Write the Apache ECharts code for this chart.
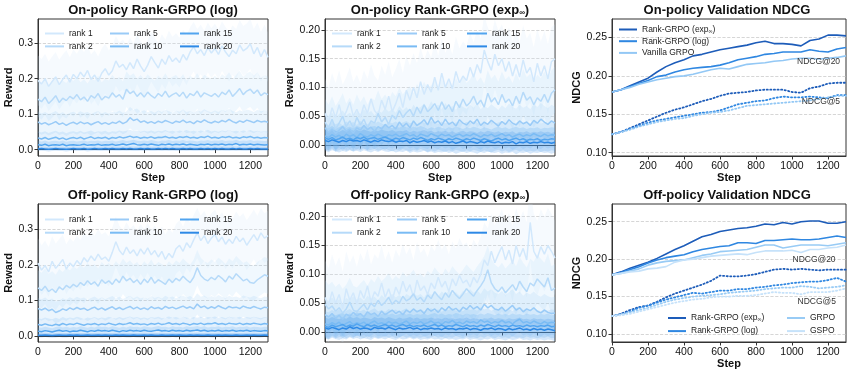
<!DOCTYPE html>
<html>
<head>
<meta charset="utf-8">
<script src="https://cdn.jsdelivr.net/npm/echarts@6/dist/echarts.min.js"></script>
<style>
  html, body { margin: 0; padding: 0; background: #fff; }
  #chart { width: 847px; height: 373px; }
</style>
</head>
<body>
<div id="chart"></div>
<script>
// steps for the reward curves
const steps = [0,20,40,60,80,100,120,140,160,180,200,220,240,260,280,300,320,340,360,380,400,420,440,460,480,500,520,540,560,580,600,620,640,660,680,700,720,740,760,780,800,820,840,860,880,900,920,940,960,980,1000,1020,1040,1060,1080,1100,1120,1140,1160,1180,1200,1220,1240,1260,1280,1300];
const rankNames = ['rank 1', 'rank 2', 'rank 5', 'rank 10', 'rank 15', 'rank 20'];

// On-policy Rank-GRPO (log)
const onLogR1 = [0.195,0.185,0.200,0.178,0.192,0.205,0.183,0.198,0.210,0.190, 0.212,0.200,0.218,0.205,0.223,0.198,0.210,0.192,0.215,0.228, 0.210,0.222,0.250,0.232,0.240,0.225,0.245,0.228,0.255,0.235, 0.220,0.238,0.262,0.245,0.230,0.255,0.240,0.265,0.248,0.258, 0.245,0.268,0.252,0.275,0.290,0.270,0.282,0.265,0.288,0.272, 0.285,0.268,0.292,0.275,0.262,0.280,0.270,0.295,0.278,0.285, 0.298,0.270,0.288,0.262,0.282,0.260];
const onLogR2 = [0.142,0.135,0.148,0.130,0.140,0.152,0.133,0.145,0.138,0.150, 0.143,0.155,0.140,0.148,0.136,0.152,0.145,0.158,0.140,0.150, 0.145,0.160,0.148,0.155,0.142,0.170,0.158,0.165,0.150,0.160, 0.148,0.162,0.152,0.145,0.158,0.150,0.165,0.148,0.155,0.160, 0.150,0.162,0.145,0.158,0.152,0.165,0.148,0.160,0.155,0.150, 0.158,0.148,0.162,0.155,0.168,0.150,0.160,0.172,0.155,0.165, 0.170,0.158,0.168,0.152,0.160,0.155];
const onLogR5 = [0.078,0.072,0.076,0.070,0.074,0.079,0.071,0.075,0.068,0.074, 0.077,0.072,0.078,0.073,0.076,0.070,0.075,0.079,0.072,0.076, 0.071,0.077,0.074,0.080,0.073,0.078,0.090,0.082,0.086,0.077, 0.081,0.075,0.079,0.074,0.080,0.076,0.082,0.078,0.074,0.080, 0.077,0.083,0.076,0.079,0.073,0.081,0.077,0.084,0.078,0.075, 0.080,0.076,0.082,0.078,0.085,0.079,0.075,0.081,0.077,0.083, 0.080,0.076,0.082,0.078,0.080,0.077];
const onLogR10 = [0.033,0.030,0.034,0.029,0.032,0.035,0.030,0.033,0.028,0.032, 0.034,0.031,0.035,0.030,0.033,0.036,0.031,0.034,0.032,0.035, 0.030,0.034,0.032,0.036,0.033,0.035,0.038,0.034,0.036,0.032, 0.035,0.033,0.036,0.032,0.035,0.034,0.037,0.033,0.035,0.032, 0.036,0.034,0.037,0.033,0.035,0.032,0.036,0.034,0.038,0.033, 0.035,0.032,0.036,0.034,0.037,0.033,0.035,0.032,0.036,0.034, 0.037,0.033,0.035,0.032,0.034,0.033];
const onLogR15 = [0.014,0.012,0.015,0.011,0.013,0.014,0.012,0.015,0.011,0.013, 0.014,0.012,0.013,0.015,0.012,0.014,0.013,0.015,0.012,0.014, 0.013,0.015,0.012,0.014,0.016,0.013,0.015,0.017,0.014,0.013, 0.015,0.013,0.016,0.014,0.012,0.015,0.014,0.016,0.013,0.015, 0.014,0.016,0.013,0.015,0.014,0.012,0.015,0.014,0.016,0.013, 0.015,0.014,0.016,0.013,0.015,0.014,0.017,0.013,0.015,0.014, 0.016,0.013,0.015,0.014,0.013,0.014];
const onLogR20 = [0.002,0.003,0.002,0.001,0.002,0.003,0.002,0.002,0.001,0.002, 0.003,0.002,0.002,0.003,0.001,0.002,0.003,0.002,0.002,0.003, 0.002,0.003,0.002,0.002,0.003,0.002,0.003,0.002,0.002,0.003, 0.002,0.003,0.002,0.002,0.003,0.002,0.003,0.002,0.003,0.002, 0.002,0.003,0.002,0.003,0.002,0.002,0.003,0.002,0.003,0.002, 0.003,0.002,0.003,0.002,0.002,0.003,0.002,0.003,0.002,0.002, 0.003,0.002,0.003,0.002,0.002,0.002];

// On-policy Rank-GRPO (exp∞)
const onExpR1 = [0.055,0.040,0.065,0.048,0.070,0.045,0.058,0.075,0.050,0.062, 0.048,0.070,0.055,0.080,0.060,0.052,0.078,0.062,0.085,0.058, 0.072,0.090,0.065,0.095,0.078,0.100,0.082,0.110,0.088,0.105, 0.092,0.118,0.095,0.125,0.100,0.115,0.098,0.128,0.108,0.120, 0.112,0.135,0.118,0.140,0.125,0.165,0.145,0.130,0.158,0.138, 0.150,0.128,0.145,0.120,0.140,0.118,0.148,0.125,0.135,0.110, 0.142,0.120,0.138,0.115,0.145,0.150];
const onExpR2 = [0.040,0.030,0.045,0.028,0.038,0.050,0.032,0.042,0.030,0.048, 0.035,0.045,0.030,0.042,0.038,0.055,0.040,0.048,0.036,0.052, 0.045,0.060,0.048,0.056,0.062,0.050,0.066,0.055,0.070,0.058, 0.064,0.072,0.060,0.075,0.062,0.070,0.058,0.076,0.065,0.080, 0.068,0.074,0.085,0.070,0.078,0.066,0.090,0.075,0.082,0.070, 0.088,0.074,0.080,0.068,0.085,0.072,0.092,0.078,0.084,0.070, 0.082,0.076,0.088,0.074,0.090,0.096];
const onExpR5 = [0.030,0.022,0.028,0.020,0.026,0.032,0.024,0.028,0.021,0.030, 0.026,0.034,0.027,0.031,0.024,0.032,0.028,0.036,0.030,0.034, 0.028,0.040,0.032,0.038,0.030,0.042,0.034,0.038,0.044,0.035, 0.048,0.038,0.042,0.034,0.045,0.036,0.040,0.033,0.044,0.038, 0.035,0.042,0.037,0.045,0.034,0.040,0.036,0.043,0.038,0.033, 0.041,0.036,0.044,0.038,0.035,0.042,0.037,0.040,0.034,0.043, 0.038,0.045,0.040,0.036,0.042,0.038];
const onExpR10 = [0.016,0.013,0.018,0.014,0.017,0.012,0.019,0.015,0.018,0.013, 0.020,0.016,0.014,0.018,0.015,0.019,0.016,0.013,0.018,0.016, 0.019,0.015,0.017,0.020,0.016,0.018,0.014,0.019,0.017,0.015, 0.020,0.017,0.015,0.019,0.016,0.018,0.014,0.017,0.019,0.015, 0.018,0.016,0.020,0.017,0.014,0.018,0.016,0.019,0.015,0.017, 0.020,0.016,0.018,0.014,0.017,0.019,0.015,0.018,0.016,0.020, 0.017,0.015,0.019,0.016,0.018,0.017];
const onExpR15 = [0.012,0.010,0.013,0.009,0.011,0.014,0.010,0.012,0.009,0.013, 0.011,0.014,0.010,0.012,0.013,0.010,0.012,0.014,0.011,0.009, 0.012,0.010,0.013,0.011,0.009,0.012,0.010,0.013,0.011,0.008, 0.011,0.009,0.012,0.010,0.008,0.011,0.009,0.012,0.010,0.008, 0.011,0.009,0.012,0.010,0.008,0.011,0.009,0.007,0.010,0.012, 0.009,0.011,0.008,0.010,0.012,0.009,0.011,0.008,0.010,0.009, 0.011,0.008,0.010,0.009,0.011,0.010];
const onExpR20 = [0.008,0.006,0.009,0.007,0.005,0.008,0.006,0.009,0.007,0.008, 0.006,0.009,0.007,0.005,0.008,0.006,0.009,0.007,0.006,0.008, 0.005,0.007,0.006,0.008,0.004,0.007,0.005,0.006,0.008,0.005, 0.007,0.004,0.006,0.005,0.007,0.004,0.006,0.003,0.005,0.007, 0.004,0.006,0.005,0.003,0.006,0.004,0.007,0.005,0.004,0.006, 0.003,0.005,0.004,0.006,0.002,0.005,0.004,0.006,0.003,0.005, 0.004,0.006,0.004,0.005,0.003,0.005];

// Off-policy Rank-GRPO (log)
const offLogR1 = [0.205,0.185,0.198,0.180,0.210,0.190,0.202,0.215,0.188,0.205, 0.195,0.212,0.200,0.220,0.208,0.225,0.212,0.230,0.215,0.222, 0.210,0.235,0.265,0.240,0.228,0.250,0.232,0.242,0.225,0.245, 0.230,0.248,0.228,0.240,0.222,0.238,0.215,0.232,0.220,0.245, 0.255,0.238,0.262,0.248,0.270,0.290,0.268,0.282,0.260,0.275, 0.285,0.265,0.278,0.258,0.272,0.260,0.280,0.265,0.275,0.255, 0.270,0.285,0.268,0.290,0.275,0.282];
const offLogR2 = [0.135,0.128,0.140,0.125,0.132,0.122,0.138,0.130,0.142,0.135, 0.145,0.138,0.150,0.142,0.155,0.145,0.152,0.140,0.158,0.148, 0.155,0.145,0.160,0.150,0.168,0.155,0.162,0.150,0.158,0.145, 0.160,0.150,0.165,0.148,0.158,0.152,0.145,0.160,0.150,0.162, 0.155,0.168,0.158,0.150,0.165,0.192,0.170,0.160,0.155,0.165, 0.158,0.170,0.162,0.152,0.168,0.160,0.175,0.165,0.155,0.160, 0.150,0.148,0.158,0.165,0.172,0.168];
const offLogR5 = [0.077,0.073,0.078,0.071,0.075,0.066,0.070,0.076,0.072,0.079, 0.074,0.080,0.075,0.078,0.072,0.077,0.081,0.074,0.079,0.073, 0.078,0.082,0.075,0.080,0.074,0.079,0.083,0.076,0.081,0.075, 0.079,0.074,0.082,0.077,0.080,0.075,0.083,0.078,0.081,0.076, 0.080,0.084,0.078,0.082,0.076,0.090,0.080,0.084,0.077,0.082, 0.078,0.085,0.080,0.076,0.083,0.079,0.081,0.077,0.084,0.080, 0.078,0.083,0.079,0.076,0.081,0.079];
const offLogR10 = [0.032,0.030,0.034,0.031,0.029,0.033,0.030,0.035,0.031,0.034, 0.032,0.036,0.033,0.030,0.034,0.032,0.035,0.031,0.034,0.032, 0.036,0.033,0.031,0.035,0.032,0.034,0.037,0.033,0.035,0.032, 0.034,0.031,0.035,0.033,0.036,0.032,0.034,0.037,0.033,0.035, 0.032,0.036,0.034,0.031,0.035,0.033,0.036,0.032,0.035,0.034, 0.037,0.033,0.035,0.032,0.036,0.034,0.033,0.036,0.032,0.035, 0.033,0.036,0.034,0.032,0.035,0.033];
const offLogR15 = [0.013,0.012,0.015,0.013,0.011,0.014,0.016,0.013,0.015,0.012, 0.014,0.013,0.016,0.014,0.012,0.015,0.013,0.016,0.014,0.015, 0.013,0.016,0.014,0.012,0.015,0.013,0.016,0.014,0.015,0.013, 0.016,0.014,0.013,0.015,0.017,0.014,0.015,0.013,0.016,0.014, 0.015,0.013,0.016,0.014,0.015,0.017,0.014,0.016,0.013,0.015, 0.014,0.016,0.013,0.015,0.014,0.016,0.013,0.015,0.014,0.016, 0.013,0.015,0.014,0.013,0.015,0.014];
const offLogR20 = [0.002,0.002,0.003,0.002,0.001,0.002,0.003,0.002,0.002,0.003, 0.002,0.003,0.002,0.002,0.003,0.002,0.002,0.003,0.002,0.003, 0.002,0.002,0.003,0.002,0.003,0.002,0.002,0.003,0.002,0.002, 0.003,0.002,0.003,0.002,0.002,0.003,0.002,0.002,0.003,0.002, 0.003,0.002,0.002,0.003,0.002,0.003,0.002,0.002,0.003,0.002, 0.002,0.003,0.002,0.003,0.002,0.002,0.003,0.002,0.002,0.003, 0.002,0.003,0.002,0.002,0.003,0.002];

// Off-policy Rank-GRPO (exp∞)
const offExpR1 = [0.060,0.045,0.070,0.050,0.065,0.040,0.075,0.055,0.068,0.048, 0.072,0.058,0.080,0.052,0.070,0.062,0.085,0.060,0.075,0.055, 0.078,0.065,0.088,0.070,0.082,0.060,0.090,0.072,0.080,0.065, 0.085,0.075,0.095,0.078,0.088,0.070,0.092,0.080,0.098,0.085, 0.090,0.078,0.095,0.085,0.100,0.125,0.115,0.140,0.120,0.135, 0.148,0.125,0.142,0.118,0.150,0.130,0.145,0.125,0.190,0.140, 0.128,0.148,0.135,0.150,0.140,0.128];
const offExpR2 = [0.048,0.040,0.045,0.036,0.042,0.033,0.040,0.052,0.038,0.035, 0.042,0.048,0.038,0.050,0.044,0.055,0.046,0.052,0.060,0.048, 0.055,0.050,0.062,0.054,0.058,0.066,0.055,0.060,0.052,0.064, 0.058,0.070,0.062,0.056,0.068,0.060,0.072,0.064,0.058,0.066, 0.075,0.068,0.062,0.072,0.080,0.090,0.108,0.085,0.075,0.070, 0.078,0.068,0.075,0.082,0.072,0.088,0.078,0.070,0.085,0.080, 0.092,0.085,0.078,0.094,0.072,0.076];
const offExpR5 = [0.030,0.026,0.032,0.024,0.029,0.022,0.031,0.027,0.034,0.028, 0.032,0.026,0.035,0.030,0.033,0.027,0.036,0.030,0.034,0.038, 0.032,0.036,0.030,0.038,0.034,0.040,0.035,0.038,0.032,0.041, 0.036,0.040,0.034,0.042,0.037,0.044,0.038,0.041,0.035,0.043, 0.039,0.046,0.040,0.044,0.038,0.048,0.042,0.046,0.040,0.038, 0.043,0.036,0.041,0.046,0.038,0.042,0.035,0.040,0.037,0.042, 0.036,0.033,0.038,0.034,0.032,0.033];
const offExpR10 = [0.014,0.012,0.016,0.013,0.017,0.011,0.015,0.018,0.013,0.016, 0.014,0.017,0.012,0.016,0.019,0.014,0.016,0.013,0.018,0.015, 0.017,0.013,0.016,0.019,0.014,0.017,0.015,0.018,0.014,0.016, 0.019,0.015,0.017,0.013,0.018,0.016,0.020,0.015,0.017,0.014, 0.019,0.016,0.018,0.015,0.021,0.017,0.019,0.015,0.018,0.016, 0.020,0.016,0.018,0.014,0.019,0.022,0.016,0.018,0.015,0.019, 0.016,0.014,0.018,0.015,0.017,0.016];
const offExpR15 = [0.010,0.008,0.012,0.009,0.011,0.013,0.009,0.012,0.010,0.014, 0.011,0.009,0.013,0.010,0.012,0.009,0.011,0.013,0.010,0.012, 0.009,0.011,0.013,0.010,0.012,0.009,0.011,0.010,0.012,0.009, 0.011,0.013,0.010,0.012,0.009,0.011,0.010,0.013,0.011,0.009, 0.012,0.010,0.011,0.009,0.012,0.010,0.013,0.011,0.009,0.012, 0.010,0.011,0.009,0.012,0.010,0.011,0.009,0.012,0.010,0.011, 0.009,0.011,0.010,0.012,0.009,0.010];
const offExpR20 = [0.007,0.005,0.008,0.006,0.004,0.007,0.005,0.009,0.006,0.008, 0.005,0.007,0.006,0.004,0.008,0.006,0.007,0.005,0.008,0.006, 0.004,0.007,0.005,0.006,0.008,0.005,0.007,0.004,0.006,0.005, 0.007,0.005,0.006,0.004,0.007,0.005,0.006,0.004,0.006,0.005, 0.007,0.004,0.006,0.005,0.003,0.006,0.005,0.007,0.004,0.006, 0.005,0.003,0.006,0.004,0.005,0.007,0.004,0.005,0.003,0.006, 0.004,0.005,0.003,0.005,0.004,0.002];

// std band half-widths per rank
const onLogSpread = [0.07, 0.05, 0.03, 0.018, 0.011, 0.006];
const onExpSpread = [0.06, 0.04, 0.028, 0.022, 0.02, 0.018];
const offLogSpread = [0.07, 0.05, 0.03, 0.018, 0.011, 0.006];
const offExpSpread = [0.065, 0.042, 0.028, 0.022, 0.02, 0.018];

// validation NDCG, every 50 steps
const ndcgSteps = [0,50,100,150,200,250,300,350,400,450,500,550,600,650,700,750,800,850,900,950,1000,1050,1100,1150,1200,1250,1300];
const onExp20 = [0.179,0.182,0.187,0.192,0.197,0.205,0.212,0.217,0.221,0.226,0.228,0.231,0.234,0.236,0.238,0.240,0.243,0.245,0.242,0.242,0.241,0.239,0.246,0.248,0.253,0.253,0.252];
const onLog20 = [0.179,0.182,0.186,0.190,0.194,0.199,0.201,0.205,0.208,0.210,0.211,0.212,0.214,0.217,0.221,0.223,0.225,0.228,0.229,0.231,0.231,0.231,0.234,0.232,0.231,0.235,0.237];
const onVanilla20 = [0.179,0.182,0.185,0.189,0.192,0.195,0.197,0.199,0.200,0.202,0.205,0.208,0.210,0.209,0.212,0.215,0.216,0.217,0.219,0.220,0.222,0.223,0.223,0.222,0.223,0.224,0.226];
const onExp5 = [0.124,0.127,0.132,0.137,0.142,0.147,0.152,0.156,0.159,0.163,0.167,0.170,0.174,0.177,0.178,0.179,0.181,0.182,0.182,0.182,0.179,0.178,0.184,0.186,0.190,0.191,0.191];
const onLog5 = [0.124,0.127,0.131,0.135,0.139,0.142,0.144,0.146,0.148,0.150,0.152,0.153,0.155,0.159,0.163,0.165,0.167,0.168,0.171,0.173,0.172,0.172,0.173,0.172,0.171,0.175,0.175];
const onVanilla5 = [0.124,0.127,0.130,0.134,0.137,0.140,0.142,0.144,0.145,0.148,0.150,0.152,0.153,0.155,0.158,0.161,0.162,0.163,0.164,0.165,0.166,0.167,0.168,0.170,0.172,0.174,0.174];
const offExp20 = [0.179,0.183,0.188,0.192,0.196,0.201,0.207,0.213,0.218,0.224,0.230,0.233,0.237,0.239,0.241,0.242,0.244,0.247,0.246,0.249,0.247,0.250,0.251,0.251,0.248,0.248,0.250];
const offLog20 = [0.179,0.182,0.186,0.190,0.195,0.199,0.202,0.204,0.206,0.210,0.213,0.215,0.217,0.218,0.222,0.222,0.221,0.225,0.225,0.226,0.227,0.226,0.226,0.227,0.229,0.231,0.229];
const offGrpo20 = [0.179,0.181,0.184,0.187,0.192,0.195,0.197,0.198,0.199,0.202,0.205,0.207,0.210,0.211,0.212,0.213,0.216,0.219,0.219,0.215,0.217,0.219,0.219,0.219,0.218,0.220,0.222];
const offGspo20 = [0.179,0.181,0.183,0.184,0.187,0.188,0.190,0.196,0.199,0.200,0.202,0.204,0.205,0.206,0.207,0.206,0.209,0.211,0.211,0.211,0.212,0.209,0.213,0.213,0.215,0.216,0.219];
const offExp5 = [0.124,0.127,0.132,0.136,0.138,0.143,0.149,0.154,0.158,0.162,0.166,0.171,0.178,0.177,0.177,0.178,0.180,0.183,0.186,0.187,0.186,0.187,0.186,0.185,0.186,0.186,0.186];
const offLog5 = [0.124,0.126,0.130,0.135,0.138,0.142,0.146,0.149,0.152,0.155,0.154,0.156,0.158,0.158,0.160,0.160,0.162,0.163,0.165,0.166,0.168,0.169,0.170,0.170,0.172,0.175,0.170];
const offGrpo5 = [0.124,0.126,0.129,0.132,0.135,0.139,0.143,0.146,0.148,0.150,0.151,0.152,0.153,0.155,0.156,0.157,0.158,0.160,0.161,0.162,0.162,0.164,0.163,0.161,0.162,0.163,0.165];
const offGspo5 = [0.124,0.125,0.127,0.130,0.133,0.136,0.139,0.142,0.144,0.146,0.147,0.149,0.150,0.150,0.151,0.151,0.152,0.154,0.156,0.155,0.155,0.153,0.156,0.156,0.156,0.158,0.161];

// tick labels
const stepTicks = [0, 200, 400, 600, 800, 1000, 1200];
const logRewardTicks = [0, 0.1, 0.2, 0.3];
const expRewardTicks = [0, 0.05, 0.1, 0.15, 0.2];
const ndcgTicks = [0.1, 0.15, 0.2, 0.25];

const FONT = 'Liberation Sans, Arial, Helvetica, sans-serif';
const rankColors = ['#d2e8fc', '#b6daf9', '#9acbf7', '#79bbf4', '#51a4ef', '#2d89e6'];
const cExp = '#1d5cb9', cLog = '#2f87e1', cVan = '#93c8f5', cGrpo = '#98cbf5', cGspo = '#c6e2fa';

const boxes = [
  { left: 38, top: 19, width: 230, height: 137 },
  { left: 325, top: 19, width: 230, height: 137 },
  { left: 612, top: 19, width: 234, height: 137 },
  { left: 38, top: 204, width: 230, height: 138 },
  { left: 325, top: 204, width: 230, height: 138 },
  { left: 612, top: 204, width: 234, height: 138 }
];
const yCfg = [
  { min: -0.018, max: 0.368, step: 0.1, dig: 1, ticks: logRewardTicks, name: 'Reward', gap: 21.5 },
  { min: -0.019, max: 0.219, step: 0.05, dig: 2, ticks: expRewardTicks, name: 'Reward', gap: 28.5 },
  { min: 0.0957, max: 0.274, step: 0.05, dig: 2, ticks: ndcgTicks, name: 'NDCG', gap: 28.5 },
  { min: -0.017, max: 0.371, step: 0.1, dig: 1, ticks: logRewardTicks, name: 'Reward', gap: 21.5 },
  { min: -0.0174, max: 0.222, step: 0.05, dig: 2, ticks: expRewardTicks, name: 'Reward', gap: 28.5 },
  { min: 0.0893, max: 0.2737, step: 0.05, dig: 2, ticks: ndcgTicks, name: 'NDCG', gap: 28.5 }
];
const showStep = [true, true, true, false, false, true];

const grids = [], xAxes = [], yAxes = [], series = [];
const axisLine = { show: true, lineStyle: { color: '#333', width: 1 } };
const axisTickStyle = { color: '#333', width: 1 };

boxes.forEach((b, i) => {
  grids.push(Object.assign({ show: true, borderColor: '#333', borderWidth: 1, backgroundColor: 'transparent', containLabel: false, outerBoundsMode: 'none' }, b));
  xAxes.push({
    type: 'value', gridIndex: i, min: 0, max: 1300, minInterval: 200, maxInterval: 200,
    name: showStep[i] ? 'Step' : '', nameLocation: 'middle', nameGap: 15,
    nameTextStyle: { fontFamily: FONT, fontWeight: 'bold', fontSize: 11, color: '#111' },
    axisLine: axisLine,
    axisTick: { show: true, length: 3.5, lineStyle: axisTickStyle, customValues: stepTicks },
    axisLabel: { fontFamily: FONT, fontSize: 10.5, color: '#111', margin: 5, customValues: stepTicks, formatter: v => String(v) },
    splitLine: { show: false }
  });
  const c = yCfg[i];
  yAxes.push({
    type: 'value', gridIndex: i, min: c.min, max: c.max, minInterval: c.step, maxInterval: c.step,
    name: c.name, nameLocation: 'middle', nameGap: c.gap,
    nameTextStyle: { fontFamily: FONT, fontWeight: 'bold', fontSize: 11, color: '#111' },
    axisLine: axisLine,
    axisTick: { show: true, length: 3.5, lineStyle: axisTickStyle, customValues: c.ticks },
    axisLabel: { fontFamily: FONT, fontSize: 10.5, color: '#111', margin: 5, customValues: c.ticks, formatter: v => v.toFixed(c.dig) },
    splitLine: { show: true, lineStyle: { type: 'dashed', color: '#cccccc', width: 0.8 } }
  });
});

// reward panels: std band (custom polygon) + mean line per rank
const rewardPanels = [
  { idx: 0, lines: [onLogR1, onLogR2, onLogR5, onLogR10, onLogR15, onLogR20], spread: onLogSpread },
  { idx: 1, lines: [onExpR1, onExpR2, onExpR5, onExpR10, onExpR15, onExpR20], spread: onExpSpread },
  { idx: 3, lines: [offLogR1, offLogR2, offLogR5, offLogR10, offLogR15, offLogR20], spread: offLogSpread },
  { idx: 4, lines: [offExpR1, offExpR2, offExpR5, offExpR10, offExpR15, offExpR20], spread: offExpSpread }
];
rewardPanels.forEach(p => {
  p.lines.forEach((vals, r) => {
    const sp = p.spread[r];
    const bandData = vals.map((v, k) => [steps[k], v - sp, v + sp]);
    series.push({
      type: 'custom', xAxisIndex: p.idx, yAxisIndex: p.idx, silent: true, clip: true, z: 1,
      data: bandData, encode: { x: 0, y: [1, 2] },
      renderItem: (params, api) => {
        if (params.dataIndex !== 0) return;
        const upper = bandData.map(d => api.coord([d[0], d[2]]));
        const lower = bandData.map(d => api.coord([d[0], d[1]])).reverse();
        return { type: 'polygon', shape: { points: upper.concat(lower) },
          style: { fill: rankColors[r], opacity: 0.2 } };
      }
    });
  });
  p.lines.forEach((vals, r) => {
    series.push({
      name: rankNames[r], type: 'line', xAxisIndex: p.idx, yAxisIndex: p.idx,
      data: vals.map((v, k) => [steps[k], v]), symbol: 'none',
      lineStyle: { color: rankColors[r], width: 1.5 }, itemStyle: { color: rankColors[r] }, z: 3
    });
  });
});

// NDCG panels
function ndcgLine(name, idx, vals, color, dotted) {
  return {
    name: name, type: 'line', xAxisIndex: idx, yAxisIndex: idx,
    data: vals.map((v, k) => [ndcgSteps[k], v]), symbol: 'none',
    lineStyle: dotted ? { color: color, width: 1.8, type: [1.2, 2.4], cap: 'round' } : { color: color, width: 1.6 },
    itemStyle: { color: color }, z: 3
  };
}
function note(text, coord) {
  return {
    coord: coord, symbol: 'circle', symbolSize: 1, itemStyle: { color: 'rgba(0,0,0,0)' },
    label: { show: true, position: 'left', distance: 0, formatter: text, fontFamily: FONT, fontSize: 8.5, color: '#333' }
  };
}
const EXP = 'Rank-GRPO (exp∞)', LOG = 'Rank-GRPO (log)';
series.push(ndcgLine(EXP, 2, onExp20, cExp, false));
series.push(ndcgLine(LOG, 2, onLog20, cLog, false));
series.push(ndcgLine('Vanilla GRPO', 2, onVanilla20, cVan, false));
series.push(ndcgLine(EXP, 2, onExp5, cExp, true));
series.push(ndcgLine(LOG, 2, onLog5, cLog, true));
const onVan5 = ndcgLine('Vanilla GRPO', 2, onVanilla5, cVan, true);
onVan5.markPoint = { silent: true, data: [note('NDCG@20', [1270, 0.218]), note('NDCG@5', [1270, 0.1664])] };
series.push(onVan5);

series.push(ndcgLine(EXP, 5, offExp20, cExp, false));
series.push(ndcgLine(LOG, 5, offLog20, cLog, false));
series.push(ndcgLine('GRPO', 5, offGrpo20, cGrpo, false));
series.push(ndcgLine('GSPO', 5, offGspo20, cGspo, false));
series.push(ndcgLine(EXP, 5, offExp5, cExp, true));
series.push(ndcgLine(LOG, 5, offLog5, cLog, true));
series.push(ndcgLine('GRPO', 5, offGrpo5, cGrpo, true));
const offGs5 = ndcgLine('GSPO', 5, offGspo5, cGspo, true);
offGs5.markPoint = { silent: true, data: [note('NDCG@20', [1245, 0.1987]), note('NDCG@5', [1247, 0.1428])] };
series.push(offGs5);

// legends
function legend(names, left, top, gap, size, width) {
  return {
    data: names, left: left, top: top, orient: 'vertical', padding: 0, itemGap: gap,
    icon: 'rect', itemWidth: width, itemHeight: 2, selectedMode: false,
    textStyle: { fontFamily: FONT, fontSize: size, color: '#222', rich: { s: { fontFamily: FONT, fontSize: 5.5, color: '#222', verticalAlign: 'bottom' } } },
    formatter: n => n.replace('∞', '{s|∞}')
  };
}
const legends = [
  legend(['rank 1', 'rank 2'], 45, 29, 3.9, 8.5, 19),
  legend(['rank 5', 'rank 10'], 110, 29, 3.9, 8.5, 19),
  legend(['rank 15', 'rank 20'], 180, 29, 3.9, 8.5, 19),
  legend(['rank 1', 'rank 2'], 332, 29, 3.9, 8.5, 20),
  legend(['rank 5', 'rank 10'], 397, 29, 3.9, 8.5, 20),
  legend(['rank 15', 'rank 20'], 467, 29, 3.9, 8.5, 20),
  legend(['rank 1', 'rank 2'], 45, 215, 4.2, 8.5, 19),
  legend(['rank 5', 'rank 10'], 110, 215, 4.2, 8.5, 19),
  legend(['rank 15', 'rank 20'], 180, 215, 4.2, 8.5, 19),
  legend(['rank 1', 'rank 2'], 332, 215, 4.2, 8.5, 20),
  legend(['rank 5', 'rank 10'], 397, 215, 4.2, 8.5, 20),
  legend(['rank 15', 'rank 20'], 467, 215, 4.2, 8.5, 20),
  legend([EXP, LOG, 'Vanilla GRPO'], 619, 25, 2.7, 8.5, 18),
  legend([EXP, LOG], 668, 313.5, 4.1, 8.5, 18),
  legend(['GRPO', 'GSPO'], 787, 313.5, 4.1, 8.5, 18)
];

// titles
const titleRich = {
  b: { fontFamily: FONT, fontSize: 13, fontWeight: 'bold', color: '#111' },
  s: { fontFamily: FONT, fontSize: 8, fontWeight: 'bold', color: '#111', verticalAlign: 'bottom' }
};
function title(text, cx, top) {
  return { text: text, left: cx, top: top, textAlign: 'center', padding: 0,
    textStyle: { fontFamily: FONT, fontSize: 13, fontWeight: 'bold', color: '#111', rich: titleRich } };
}
const titles = [
  title('{b|On-policy Rank-GRPO (log)}', 153, 3.5),
  title('{b|On-policy Rank-GRPO (exp}{s|∞}{b|)}', 440, 3.5),
  title('{b|On-policy Validation NDCG}', 727, 3.5),
  title('{b|Off-policy Rank-GRPO (log)}', 153, 189),
  title('{b|Off-policy Rank-GRPO (exp}{s|∞}{b|)}', 440, 189),
  title('{b|Off-policy Validation NDCG}', 727, 189)
];

const chart = echarts.init(document.getElementById('chart'), null, { renderer: 'canvas' });
chart.setOption({
  animation: false,
  backgroundColor: '#fff',
  textStyle: { fontFamily: FONT },
  title: titles,
  legend: legends,
  grid: grids,
  xAxis: xAxes,
  yAxis: yAxes,
  series: series
});
</script>
</body>
</html>
